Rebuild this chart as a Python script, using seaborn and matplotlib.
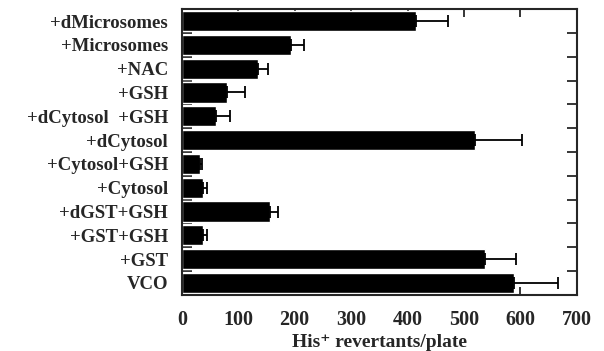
import numpy as np
import pandas as pd
import matplotlib
matplotlib.use("Agg")
import matplotlib.pyplot as plt
import seaborn as sns

# datos (de arriba hacia abajo)
labels = ["+dMicrosomes", "+Microsomes", "+NAC", "+GSH", "+dCytosol  +GSH",
          "+dCytosol", "+Cytosol+GSH", "+Cytosol", "+dGST+GSH", "+GST+GSH",
          "+GST", "VCO"]
means = [415, 193, 135, 80, 60, 520, 32, 37, 156, 37, 538, 589]
errs = [56, 23, 18, 32, 25, 83, 4, 7, 15, 8, 54, 78]

xticks = [0, 100, 200, 300, 400, 500, 600, 700]

sns.set_style("ticks")
plt.rcParams["font.family"] = ["Liberation Serif", "DejaVu Serif"]
plt.rcParams["font.weight"] = "bold"

df = pd.DataFrame({"cond": labels, "rev": means})

fig = plt.figure(figsize=(6.04, 3.51), dpi=100)
ax = fig.add_axes([0.301, 0.160, 0.654, 0.814])

sns.barplot(data=df, x="rev", y="cond", color="black", saturation=1,
            width=0.85, orient="h", ax=ax)
ax.errorbar(df["rev"], np.arange(len(df)), xerr=[np.zeros(len(df)), errs],
            fmt="none", ecolor="black", elinewidth=1.3, capsize=4.5, capthick=1.3)

ax.set_xlim(0, 700)
ax.set_ylim(len(df) - 0.5, -0.5)
ax.set_xticks(xticks)
ax.set_xticklabels([str(t) for t in xticks], fontsize=14.5, fontweight="bold")
ax.set_yticklabels(labels, fontsize=13.5, fontweight="bold")
ax.set_yticks(np.arange(len(df) - 1) + 0.5, minor=True)

ax.tick_params(axis="x", direction="in", top=True, length=6, width=1.3, pad=11)
ax.tick_params(axis="y", which="major", length=0, pad=10)
ax.tick_params(axis="y", which="minor", direction="in", left=True, right=True,
               length=7, width=1.3)

for s in ax.spines.values():
    s.set_linewidth(1.5)
    s.set_visible(True)

ax.set_ylabel("")
ax.set_xlabel("His\u207a revertants/plate", fontsize=14, fontweight="bold", labelpad=3)

fig.savefig("out.png", dpi=100)
